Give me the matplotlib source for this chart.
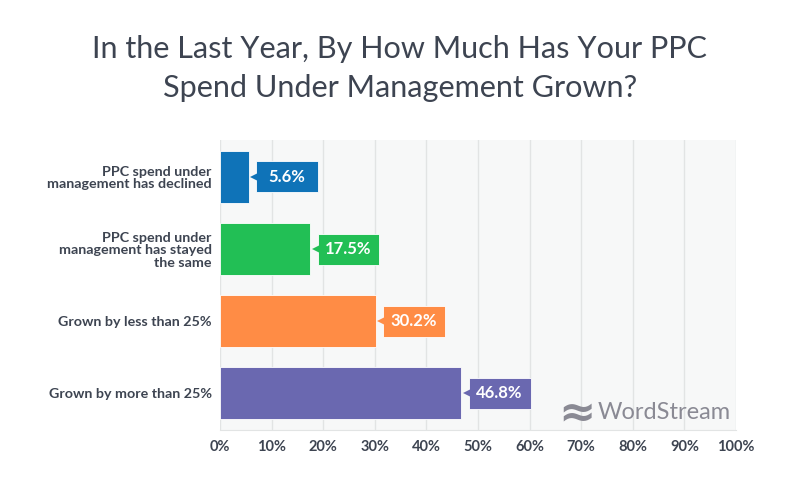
import matplotlib.pyplot as plt
from matplotlib.transforms import offset_copy

categories = [
    'PPC spend under\nmanagement has declined',
    'PPC spend under\nmanagement has stayed\nthe same',
    'Grown by less than 25%',
    'Grown by more than 25%',
]
values = [5.6, 17.5, 30.2, 46.8]
colors = ['#0f73b8', '#22bf55', '#ff8c45', '#6a68b0']
ticks = list(range(0, 101, 10))
tick_labels = [f'{t}%' for t in ticks]

plt.rcParams['font.family'] = ['Lato', 'DejaVu Sans']
text_col = '#3d4451'

fig = plt.figure(figsize=(8, 4.95), dpi=100)
ax = fig.add_axes([0.275, 0.131, 0.645, 0.586])
ax.set_facecolor('#f7f8f8')

pos = list(range(len(values)))
ax.barh(pos, values, height=0.72, color=colors, edgecolor='white', linewidth=0.6, zorder=3)

ax.set_xlim(0, 100)
ax.set_ylim(3.51, -0.51)
ax.set_xticks(ticks)
ax.set_xticklabels(tick_labels, fontsize=10.5, fontweight='bold', color=text_col)
ax.set_yticks(pos)
ax.set_yticklabels(categories, fontsize=10.3, fontweight='bold', color=text_col,
                   linespacing=1.05)
ax.tick_params(axis='x', length=0, pad=7)
ax.tick_params(axis='y', length=0, pad=6)
ax.grid(axis='x', color='#e2e4e4', linewidth=1, zorder=0)
for s in ['top', 'right', 'left']:
    ax.spines[s].set_visible(False)
ax.spines['bottom'].set_color('#e2e4e4')

# value callouts: fixed-width boxes with a small pointer
gap = 1.4      # data units between bar end and box
box_w = 12.0   # data units
box_h = 0.43
lefts = [v + gap for v in values]
ax.barh(pos, [box_w] * len(values), left=lefts, height=box_h, color=colors,
        edgecolor='white', linewidth=0.6, zorder=4)
for i, (v, c) in enumerate(zip(values, colors)):
    tr = offset_copy(ax.transData, fig=fig, x=-1, y=0, units='dots')
    ax.plot(v + gap, i, marker='<', color=c, markersize=7, transform=tr, zorder=5,
            markeredgewidth=0)
    ax.text(v + gap + box_w / 2, i, f'{v}%', ha='center', va='center',
            fontsize=12, fontweight='bold', color='white', zorder=6)

# title
fig.text(0.5, 0.862, 'In the Last Year, By How Much Has Your PPC\nSpend Under Management Grown?',
         ha='center', va='center', fontsize=22.1, color=text_col, linespacing=1.5)

# watermark
ax.text(0.728, 0.06, '\u2248', transform=ax.transAxes, ha='right', va='center',
        fontsize=32, fontweight='bold', color='#8a8a94', family='DejaVu Sans', zorder=6)
ax.text(0.99, 0.06, 'WordStream', transform=ax.transAxes, ha='right', va='center',
        fontsize=17, color='#8a8a94', zorder=6)

fig.savefig('out.png', dpi=100, facecolor='white')
